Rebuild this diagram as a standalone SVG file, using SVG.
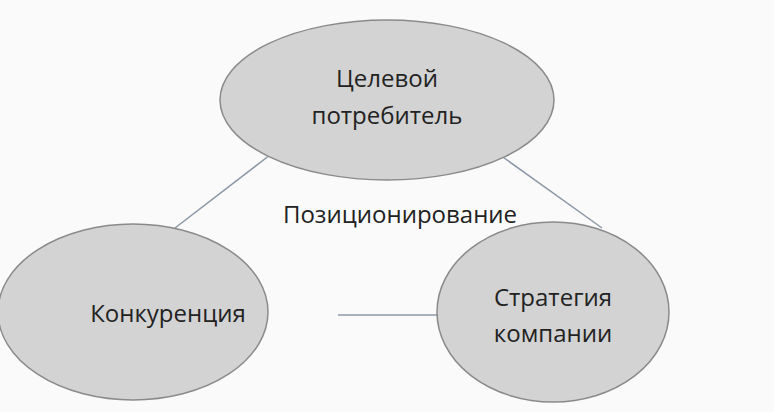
<svg xmlns="http://www.w3.org/2000/svg" width="774" height="412" viewBox="0 0 774 412">
<style>
.n{fill:#d3d3d3;stroke:#8a8a8a;stroke-width:1.5}
.t{font-family:"Open Sans","Liberation Sans",sans-serif;font-size:24px;fill:#222;text-anchor:middle}
.c{stroke:#8b97a6;stroke-width:1.5;fill:none}
</style>
<rect width="774" height="412" fill="#fafafa"/>
<g id="connectors">
<line class="c" x1="270" y1="155" x2="175" y2="228"/>
<line class="c" x1="500" y1="155" x2="602" y2="228"/>
<line class="c" x1="338" y1="315" x2="437" y2="315"/>
</g>
<g id="top"><ellipse class="n" cx="387" cy="100" rx="167" ry="80"/>
<text class="t" x="387" y="87">Целевой</text><text class="t" x="387" y="124">потребитель</text></g>
<g id="left"><ellipse class="n" cx="133" cy="312" rx="135" ry="88"/>
<text class="t" x="168" y="322">Конкуренция</text></g>
<g id="right"><ellipse class="n" cx="553" cy="312" rx="116" ry="90"/>
<text class="t" x="553" y="306">Стратегия</text><text class="t" x="553" y="342">компании</text></g>
<g id="center"><text class="t" x="400" y="223">Позиционирование</text></g>
</svg>
